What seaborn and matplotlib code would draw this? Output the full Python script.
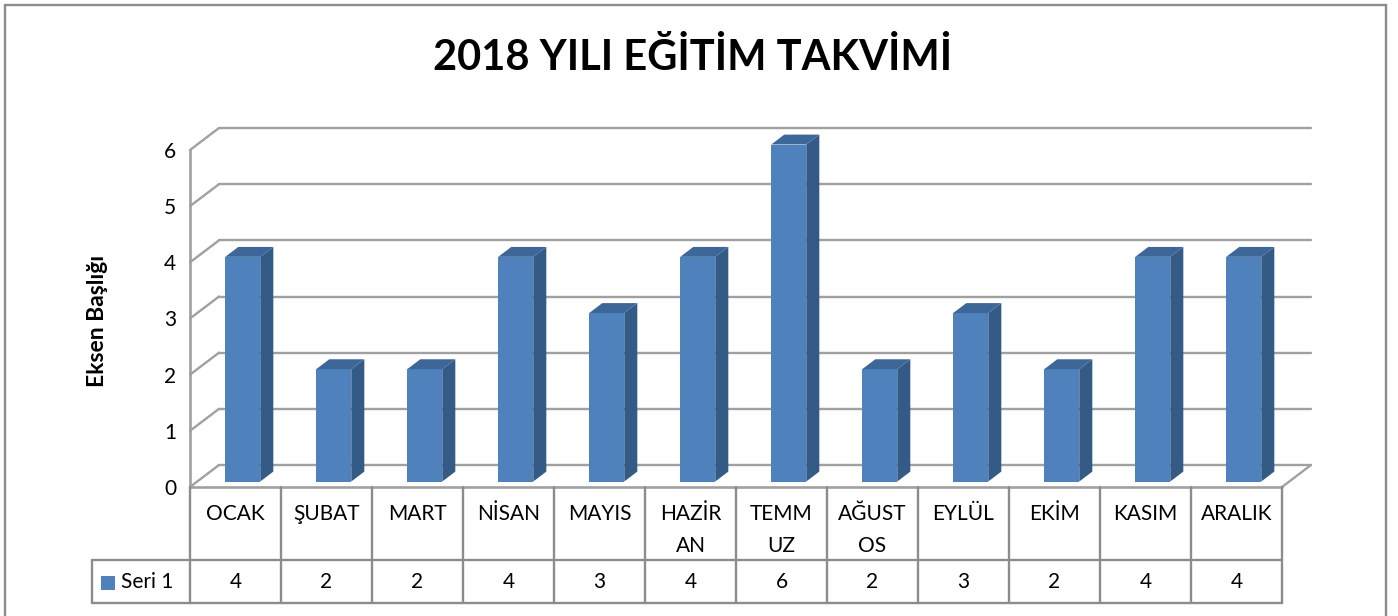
import matplotlib
matplotlib.use('Agg')
import matplotlib.pyplot as plt
import matplotlib.transforms as mtransforms
from matplotlib.patches import Polygon, Rectangle
import seaborn as sns
import pandas as pd

# dados do gráfico
meses = ['OCAK', 'ŞUBAT', 'MART', 'NİSAN', 'MAYIS', 'HAZİRAN',
         'TEMMUZ', 'AĞUSTOS', 'EYLÜL', 'EKİM', 'KASIM', 'ARALIK']
rotulos_tabela = ['OCAK', 'ŞUBAT', 'MART', 'NİSAN', 'MAYIS', 'HAZİR\nAN',
                  'TEMM\nUZ', 'AĞUST\nOS', 'EYLÜL', 'EKİM', 'KASIM', 'ARALIK']
valores = [4, 2, 2, 4, 3, 4, 6, 2, 3, 2, 4, 4]
serie = 'Seri 1'
titulo = '2018 YILI EĞİTİM TAKVİMİ'
eixo_y = 'Eksen Başlığı'

df = pd.DataFrame({'Mes': meses, 'Valor': valores})

sns.set_style('white')
plt.rcParams['font.family'] = ['Lato', 'DejaVu Sans']
plt.rcParams['text.color'] = 'black'
plt.rcParams['ytick.color'] = 'black'

W, H = 1398, 616
fig = plt.figure(figsize=(W / 100, H / 100), dpi=100)

# area do grafico (face frontal) em pixels
x0, x1, y0, y1 = 190, 1282, 487, 150
ax = fig.add_axes([x0 / W, 1 - y0 / H, (x1 - x0) / W, (y0 - y1) / H])

azul = '#4F81BD'
lateral = '#345A86'
topo = '#3D6699'
grade = '#A0A0A0'
borda = '#8C8C8C'

sns.barplot(data=df, x='Mes', y='Valor', color=azul, width=0.385,
            saturation=1, ax=ax, zorder=3)
ax.set_xlim(-0.5, 11.5)
ax.set_ylim(0, 6)

ux = (x1 - x0) / 12
uy = (y0 - y1) / 6
DX, DY = 29 / ux, 22 / uy
f0, f1 = 0.25, 0.70

# paredes e grade
for v in range(7):
    ax.plot([-0.5, -0.5 + DX], [v, v + DY], color=grade, lw=1.7, clip_on=False, zorder=1)
    ax.plot([-0.5 + DX, 11.5 + DX], [v + DY, v + DY], color=grade, lw=1.7, clip_on=False, zorder=1)
ax.plot([-0.5, -0.5], [0, 6], color=grade, lw=1.9, clip_on=False, zorder=1)
ax.plot([-0.5, 11.5], [0, 0], color=grade, lw=1.9, clip_on=False, zorder=1)
ax.plot([11.5, 11.5 + DX], [0, DY], color=grade, lw=1.7, clip_on=False, zorder=1)

# barras 3D
for p in ax.patches:
    p.set_x(p.get_x() + f0 * DX)
    p.set_y(f0 * DY)
    p.set_edgecolor('none')
    p.set_clip_on(False)
    a, b = p.get_x(), p.get_x() + p.get_width()
    base, h = p.get_y(), p.get_y() + p.get_height()
    d = (f1 - f0)
    ax.add_patch(Polygon([(b, base), (b, h), (b + d * DX, h + d * DY), (b + d * DX, base + d * DY)],
                         closed=True, facecolor=lateral, edgecolor='none', zorder=3, clip_on=False))
    ax.add_patch(Polygon([(a, h), (b, h), (b + d * DX, h + d * DY), (a + d * DX, h + d * DY)],
                         closed=True, facecolor=topo, edgecolor='none', zorder=3, clip_on=False))

ax.set_xticks([])
ax.set_yticks(range(7))
ax.set_yticklabels([str(v) for v in range(7)], fontsize=15)
ax.tick_params(axis='y', length=0, pad=10, colors='black')
ax.set_xlabel('')
ax.set_ylabel('')
for s in ax.spines.values():
    s.set_visible(False)
ax.patch.set_alpha(0)

# tabela de dados
trans = mtransforms.blended_transform_factory(ax.transData, ax.transAxes)
fy = lambda py: (y0 - py) / (y0 - y1)
row1, row2 = 560, 603
xl = -0.5 - (x0 - 92) / ux
for k in range(13):
    ax.plot([k - 0.5, k - 0.5], [fy(y0), fy(row2)], color=borda, lw=1.7,
            transform=trans, clip_on=False)
ax.plot([xl, 11.5], [fy(row1), fy(row1)], color=borda, lw=1.7, transform=trans, clip_on=False)
ax.plot([xl, 11.5], [fy(row2), fy(row2)], color=borda, lw=1.7, transform=trans, clip_on=False)
ax.plot([xl, xl], [fy(row1), fy(row2)], color=borda, lw=1.7, transform=trans, clip_on=False)

for i, (rot, v) in enumerate(zip(rotulos_tabela, valores)):
    linhas = rot.split('\n')
    for j, t in enumerate(linhas):
        ax.text(i, fy(514 + 32 * j), t, transform=trans, ha='center', va='center',
                fontsize=15, color='black')
    ax.text(i, fy(582), str(v), transform=trans, ha='center', va='center',
            fontsize=15, color='black')

# legenda
fig.add_artist(Rectangle((101 / W, 1 - 590 / H), 14 / W, 14 / H, transform=fig.transFigure,
                         facecolor=azul, edgecolor='none'))
fig.text(121 / W, 1 - 582 / H, serie, ha='left', va='center', fontsize=15, color='black')

# titulos
fig.text(693 / W, 1 - 57 / H, titulo, ha='center', va='center', fontsize=30,
         fontweight='bold', color='black')
fig.text(97 / W, 1 - 321 / H, eixo_y, ha='center', va='center', rotation=90,
         fontsize=16.5, fontweight='bold', color='black')

# moldura
fig.add_artist(Rectangle((5 / W, -0.05), (1386 - 5) / W, 1.05 - 5 / H, transform=fig.transFigure,
                         facecolor='none', edgecolor=borda, lw=1.7))

plt.savefig('out.png', dpi=100)
